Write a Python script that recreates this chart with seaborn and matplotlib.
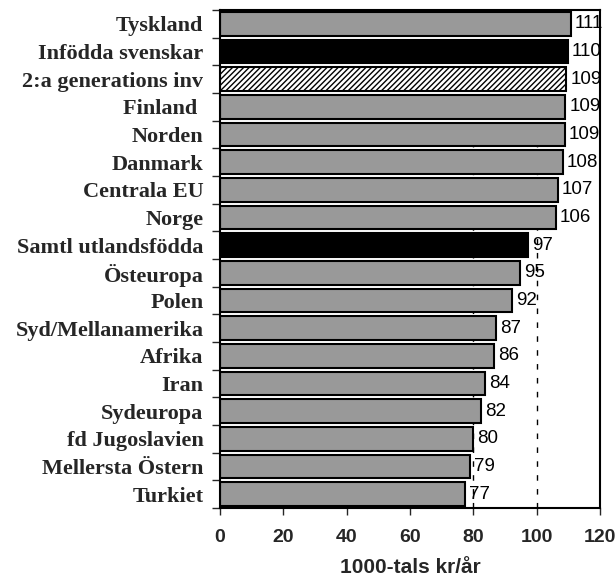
import matplotlib
matplotlib.use("Agg")
import matplotlib.pyplot as plt
import seaborn as sns
import pandas as pd
from matplotlib.ticker import FixedLocator

categories = ["Tyskland", "Infödda svenskar", "2:a generations inv", "Finland ", "Norden",
              "Danmark", "Centrala EU", "Norge", "Samtl utlandsfödda", "Östeuropa", "Polen",
              "Syd/Mellanamerika", "Afrika", "Iran", "Sydeuropa", "fd Jugoslavien",
              "Mellersta Östern", "Turkiet"]
values = [110.7, 109.8, 109.4, 109.0, 108.9, 108.3, 106.7, 106.0, 97.4, 94.6, 92.2,
          87.3, 86.4, 83.6, 82.3, 79.8, 79.0, 77.4]
labels = ["111", "110", "109", "109", "109", "108", "107", "106", "97", "95", "92",
          "87", "86", "84", "82", "80", "79", "77"]
bar_colors = ["#999999", "#000000", "#ffffff", "#999999", "#999999", "#999999", "#999999",
              "#999999", "#000000", "#999999", "#999999", "#999999", "#999999", "#999999",
              "#999999", "#999999", "#999999", "#999999"]
hatched = ["2:a generations inv"]
xticks = [0, 20, 40, 60, 80, 100, 120]

df = pd.DataFrame({"cat": categories, "val": values})

sns.set_style("white")
plt.rcParams["hatch.linewidth"] = 1.0
fig = plt.figure(figsize=(6.16, 5.84), dpi=100)
ax = fig.add_axes([220/616, 1-508/584, 380/616, 498/584])

sns.barplot(data=df, x="val", y="cat", hue="cat", palette=dict(zip(categories, bar_colors)),
            order=categories, hue_order=categories, legend=False, width=0.85,
            edgecolor="black", linewidth=1.5, ax=ax, zorder=2)

for cont, cat, lab in zip(ax.containers, categories, labels):
    for p in cont:
        if cat in hatched:
            p.set_hatch("//////")
    ax.bar_label(cont, labels=[lab], padding=3, fontsize=13.5,
                 family="Liberation Sans", color="black", zorder=1)

ax.set_xlim(0, 120)
ax.set_ylim(len(categories) - 0.5, -0.5)
ax.set_xticks(xticks)
ax.set_xticklabels([str(t) for t in xticks], fontsize=14, fontweight="bold",
                   family="Liberation Sans")
ax.tick_params(axis="x", direction="out", length=5, width=1, bottom=True, pad=10)

ax.yaxis.set_major_locator(FixedLocator(list(range(len(categories)))))
ax.set_yticklabels(categories, fontsize=16, fontweight="bold", family="Liberation Serif")
ax.yaxis.set_minor_locator(FixedLocator([i + 0.5 for i in range(-1, len(categories))]))
ax.tick_params(axis="y", which="major", length=0, pad=12)
ax.tick_params(axis="y", which="minor", length=6, width=1, left=True)

sec = ax.secondary_xaxis("top")
sec.set_xticks(xticks[1:-1])
sec.tick_params(direction="in", length=3, width=1, labeltop=False)
sec.spines["top"].set_visible(False)

for g in [80, 100]:
    ax.axvline(g, color="black", linestyle=(0, (4, 6)), linewidth=1, zorder=0)

for s in ax.spines.values():
    s.set_visible(True)
    s.set_color("black")
    s.set_linewidth(1.5)
    s.set_zorder(5)

ax.set_xlabel("1000-tals kr/år", fontsize=15, fontweight="bold",
              family="Liberation Sans", labelpad=9)
ax.set_ylabel("")

fig.savefig("out.png", dpi=100)
